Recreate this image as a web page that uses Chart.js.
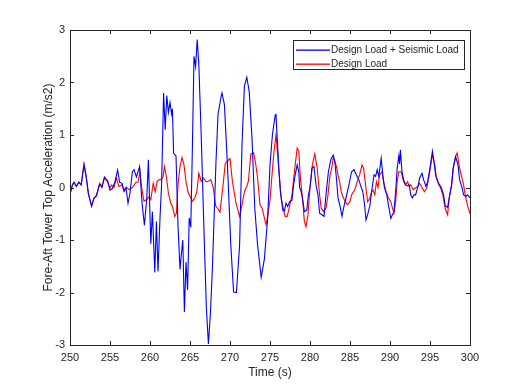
<!DOCTYPE html>
<html>
<head>
<meta charset="utf-8">
<script src="https://cdn.jsdelivr.net/npm/chart.js@4.4.0/dist/chart.umd.min.js"></script>
<style>
  body { margin: 0; background: #fff; }
  #wrap { width: 527px; height: 389px; position: relative; }
</style>
</head>
<body>
<div id="wrap"><canvas id="accChart"></canvas></div>
<script>
// ================= DATA =================
const seismicTime = [250.0,250.3,250.5,250.8,251.1,251.4,251.75,252.0,252.3,252.7,253.0,253.3,253.7,254.0,254.3,254.7,255.0,255.3,255.6,255.95,256.2,256.5,256.75,257.0,257.25,257.5,257.8,258.0,258.3,258.5,258.7,259.0,259.3,259.6,259.8,260.1,260.3,260.6,260.8,261.0,261.25,261.45,261.7,261.9,262.1,262.3,262.5,262.7,262.8,262.95,263.25,263.5,263.75,263.9,264.1,264.3,264.5,264.7,264.9,265.1,265.3,265.5,265.7,265.9,266.1,266.4,266.8,267.05,267.3,267.55,267.8,268.25,268.5,268.9,269.0,269.3,269.7,270.1,270.45,270.8,271.2,271.5,271.8,272.1,272.4,272.75,273.1,273.45,273.9,274.3,274.7,275.0,275.3,275.65,275.75,275.9,276.1,276.3,276.6,276.8,277.0,277.2,277.45,277.75,277.95,278.15,278.4,278.6,278.7,278.9,279.1,279.3,279.6,279.8,280.0,280.25,280.5,280.75,281.0,281.2,281.5,281.75,282.0,282.3,282.6,282.9,283.1,283.3,283.5,283.8,284.0,284.2,284.5,284.8,285.2,285.5,285.8,286.1,286.3,286.6,286.8,287.0,287.2,287.5,287.7,288.0,288.2,288.4,288.6,288.9,289.1,289.3,289.6,289.8,290.1,290.3,290.5,290.7,290.9,291.1,291.2,291.3,291.5,291.7,291.95,292.2,292.4,292.6,292.8,293.0,293.2,293.5,293.7,294.0,294.2,294.5,294.7,295.0,295.3,295.5,295.7,296.0,296.2,296.4,296.7,296.9,297.2,297.4,297.7,297.9,298.2,298.5,298.7,299.0,299.2,299.5,299.7,300.0];
const seismicAcc = [-0.12,0.05,0.1,0.02,0.1,0.05,0.43,0.22,-0.12,-0.35,-0.2,-0.15,0.06,0.0,0.2,0.13,-0.05,-0.02,0.1,0.33,0.1,0.08,-0.06,0.0,-0.3,-0.1,0.3,0.34,0.2,0.3,0.4,-0.28,-0.72,-0.2,0.53,-1.07,-0.46,-1.62,-0.65,-1.6,-0.58,0.06,1.8,1.1,1.75,1.43,1.62,1.4,1.5,0.65,0.6,-0.72,-1.56,-1.3,-1.0,-2.37,-1.42,-1.95,-0.58,-0.76,0.77,2.5,2.3,2.82,2.35,1.0,-1.1,-2.3,-2.98,-2.4,-1.54,0.5,1.39,1.74,1.8,1.58,0.37,-1.1,-1.99,-2.0,-1.1,0.81,1.93,2.1,1.83,0.94,-0.4,-1.1,-1.71,-1.36,-0.6,0.43,1.0,1.38,1.39,0.94,0.37,-0.08,-0.43,-0.45,-0.3,-0.36,-0.27,-0.24,0.05,0.24,0.43,0.3,0.0,-0.08,-0.24,-0.46,-0.43,-0.14,0.0,0.37,0.4,0.05,-0.14,-0.49,-0.52,-0.55,-0.14,0.3,0.53,0.62,0.5,0.18,-0.2,-0.39,-0.55,-0.39,-0.2,0.0,0.3,0.34,0.24,0.15,0.05,-0.08,-0.3,-0.62,-0.52,-0.33,-0.08,0.24,0.21,0.34,0.21,0.56,0.24,0.0,-0.14,-0.33,-0.59,-0.52,-0.46,-0.08,0.37,0.6,0.45,0.72,0.3,0.15,0.05,0.03,0.05,-0.14,-0.2,-0.14,-0.14,0.02,0.18,0.27,0.15,0.02,0.11,0.37,0.69,0.5,0.24,0.11,0.05,0.0,-0.14,-0.35,-0.38,-0.2,0.05,0.37,0.59,0.43,0.15,0.0,-0.14,-0.17,-0.14,-0.2];

const designTime = [250.0,250.3,250.5,250.8,251.1,251.4,251.75,252.0,252.3,252.7,253.0,253.3,253.7,254.0,254.3,254.7,255.0,255.2,255.5,255.8,256.1,256.5,256.75,257.1,257.4,257.8,258.25,258.5,258.75,258.95,259.25,259.6,259.9,260.1,260.4,260.65,260.9,261.15,261.4,261.65,261.8,262.05,262.3,262.6,262.8,263.1,263.3,263.5,263.75,264.0,264.25,264.5,264.8,265.1,265.3,265.6,265.85,266.1,266.4,266.7,267.0,267.3,267.6,267.9,268.2,268.5,268.75,269.1,269.4,269.7,270.0,270.3,270.75,271.2,271.5,271.8,272.1,272.3,272.6,272.95,273.2,273.45,273.75,274.0,274.3,274.5,274.75,275.0,275.25,275.5,275.75,275.9,276.15,276.4,276.7,276.9,277.15,277.4,277.75,278.1,278.4,278.6,278.8,279.1,279.3,279.5,279.75,280.0,280.3,280.6,280.9,281.2,281.4,281.7,282.0,282.25,282.5,282.7,282.9,283.1,283.3,283.5,283.7,283.9,284.1,284.4,284.7,285.0,285.2,285.6,285.9,286.2,286.5,286.7,286.9,287.2,287.5,287.7,287.9,288.1,288.3,288.5,288.7,289.0,289.2,289.5,289.8,290.1,290.3,290.5,290.7,290.9,291.1,291.4,291.7,291.95,292.2,292.4,292.6,292.9,293.2,293.5,293.7,294.0,294.3,294.6,294.9,295.1,295.3,295.6,295.8,296.1,296.3,296.6,296.9,297.2,297.4,297.7,297.9,298.2,298.4,298.7,298.9,299.2,299.4,299.7,300.0];
const designAcc = [-0.14,0.05,0.1,0.02,0.1,0.05,0.45,0.24,-0.11,-0.36,-0.2,-0.17,0.08,0.02,0.18,0.11,-0.01,0.05,0.0,0.18,0.02,0.05,-0.08,0.0,-0.04,0.0,0.1,0.1,0.3,0.0,-0.26,-0.23,-0.17,-0.23,0.08,-0.08,0.12,0.15,0.15,0.21,0.4,0.21,-0.11,-0.3,-0.36,-0.55,-0.49,0.05,0.4,0.57,0.43,0.11,-0.11,-0.2,-0.26,-0.2,-0.08,0.27,0.12,0.18,0.11,0.12,0.15,0.0,-0.35,-0.41,-0.47,0.0,0.45,0.51,0.55,0.12,-0.3,-0.55,-0.33,-0.08,0.02,0.12,0.64,0.66,0.46,0.18,-0.33,-0.39,-0.58,-0.71,-0.52,-0.24,0.24,0.69,1.0,0.75,0.24,-0.2,-0.43,-0.55,-0.55,-0.39,-0.14,0.37,0.75,0.69,0.18,-0.27,-0.65,-0.75,-0.52,0.0,0.43,0.64,0.37,-0.14,-0.39,-0.46,-0.39,-0.14,0.24,0.35,0.56,0.5,0.4,0.24,0.11,-0.08,-0.17,-0.27,-0.33,-0.27,-0.14,-0.04,0.11,0.24,0.43,0.37,0.11,-0.27,-0.2,-0.08,-0.05,-0.14,0.11,0.0,0.24,0.3,0.11,-0.08,-0.2,-0.27,-0.39,-0.49,-0.27,0.11,0.3,0.3,0.11,0.05,0.11,0.02,0.05,-0.04,-0.01,0.02,0.08,0.0,-0.08,-0.01,0.24,0.43,0.62,0.43,0.18,0.05,0.0,-0.14,-0.4,-0.52,-0.2,0.05,0.37,0.59,0.66,0.37,0.24,0.05,-0.14,-0.35,-0.5];

const xTicks = [250,255,260,265,270,275,280,285,290,295,300];
const yTicks = [-3,-2,-1,0,1,2,3];
const seriesNames = ["Design Load + Seismic Load", "Design Load"];
const seriesColors = ["#0000ff", "#ff0000"];

const axisColor = "#262626";
const fontFamily = "'Liberation Sans', Arial, Helvetica, sans-serif";

// ================= PLUGINS =================
// MATLAB-like box with inward ticks and boxed legend
const boxPlugin = {
    id: "boxPlugin",
    afterDatasetsDraw(chart) {
        const { ctx, chartArea: a, scales } = chart;
        ctx.save();
        ctx.strokeStyle = axisColor;
        ctx.lineWidth = 1;
        ctx.strokeRect(a.left + 0.5, a.top + 0.5, a.right - a.left, a.bottom - a.top);

        ctx.beginPath();
        xTicks.forEach((v) => {
            const px = Math.round(scales.x.getPixelForValue(v)) + 0.5;
            ctx.moveTo(px, a.bottom); ctx.lineTo(px, a.bottom - 4);
            ctx.moveTo(px, a.top); ctx.lineTo(px, a.top + 4);
        });
        yTicks.forEach((v) => {
            const py = Math.round(scales.y.getPixelForValue(v)) + 0.5;
            ctx.moveTo(a.left, py); ctx.lineTo(a.left + 4, py);
            ctx.moveTo(a.right, py); ctx.lineTo(a.right - 4, py);
        });
        ctx.stroke();

        // legend
        const lx = 293, ly = 40, lw = 171, lh = 29;
        ctx.fillStyle = "#fff";
        ctx.fillRect(lx, ly, lw, lh);
        ctx.strokeStyle = axisColor;
        ctx.strokeRect(lx + 0.5, ly + 0.5, lw, lh);
        ctx.font = "10px " + fontFamily;
        ctx.textBaseline = "middle";
        seriesNames.forEach((name, i) => {
            const y = ly + 10 + i * 13.5;
            ctx.fillStyle = seriesColors[i];
            ctx.fillRect(296, Math.round(y) - 0.5, 34, 1.3);
            ctx.fillStyle = axisColor;
            ctx.fillText(name, 331, y + 0.5);
        });
        ctx.restore();
    }
};

// ================= CHART =================
const toPoints = (xs, ys) => xs.map((x, i) => ({ x: x, y: ys[i] }));

const accCtx = document.getElementById("accChart");
new Chart(accCtx, {
    type: "line",
    data: {
        datasets: [
            {
                label: seriesNames[0],
                data: toPoints(seismicTime, seismicAcc),
                borderColor: seriesColors[0],
                borderWidth: 1.1,
                pointRadius: 0,
                tension: 0
            },
            {
                label: seriesNames[1],
                data: toPoints(designTime, designAcc),
                borderColor: seriesColors[1],
                borderWidth: 1.1,
                pointRadius: 0,
                tension: 0
            }
        ]
    },
    options: {
        responsive: true,
        maintainAspectRatio: false,
        animation: false,
        layout: { padding: { left: 0, top: 30, right: 57, bottom: 0 } },
        plugins: {
            legend: { display: false },
            tooltip: { enabled: false }
        },
        scales: {
            x: {
                type: "linear",
                min: 250,
                max: 300,
                afterFit: (s) => { s.height = 44; },
                afterBuildTicks: (s) => { s.ticks = xTicks.map((v) => ({ value: v })); },
                grid: { display: false, drawTicks: false },
                border: { display: false },
                ticks: { color: axisColor, padding: 6, font: { size: 11, family: fontFamily } },
                title: {
                    display: true,
                    text: "Time (s)",
                    color: axisColor,
                    padding: { top: 0, bottom: 9 },
                    font: { size: 12, family: fontFamily }
                }
            },
            y: {
                min: -3,
                max: 3,
                afterFit: (s) => { s.width = 70; },
                afterBuildTicks: (s) => { s.ticks = yTicks.map((v) => ({ value: v })); },
                grid: { display: false, drawTicks: false },
                border: { display: false },
                ticks: { color: axisColor, padding: 5, font: { size: 11, family: fontFamily } },
                title: {
                    display: true,
                    text: "Fore-Aft Tower Top Acceleration (m/s2)",
                    color: axisColor,
                    padding: { top: 41, bottom: 0 },
                    font: { size: 12, family: fontFamily }
                }
            }
        }
    },
    plugins: [boxPlugin]
});
</script>
</body>
</html>
